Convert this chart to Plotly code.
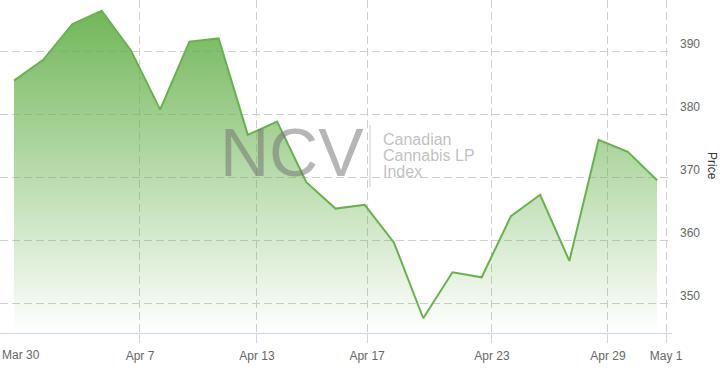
import plotly.graph_objects as go

# ---- data ----
dates = ["Mar 31", "Apr 1", "Apr 2", "Apr 3", "Apr 6", "Apr 7", "Apr 8", "Apr 9",
         "Apr 13", "Apr 14", "Apr 15", "Apr 16", "Apr 17", "Apr 20", "Apr 21",
         "Apr 22", "Apr 23", "Apr 24", "Apr 27", "Apr 28", "Apr 29", "Apr 30", "May 1"]
prices = [385.4, 388.7, 394.4, 396.5, 390.2, 380.8, 391.6, 392.1,
          376.8, 378.9, 369.3, 365.1, 365.7, 359.7, 347.7,
          355.0, 354.2, 363.9, 367.3, 356.8, 376.0, 374.1, 369.6]
tick_pos = [4.31, 8.31, 12.08, 16.35, 20.32, 22.31]
tick_text = ["Apr 7", "Apr 13", "Apr 17", "Apr 23", "Apr 29", "May 1"]
y_ticks = [350, 360, 370, 380, 390]

W, H = 720, 368
PL, PR, PT, PB = 0, 672, 0, 333
x_idx = list(range(len(prices)))

FONT = "Liberation Sans, Arial, sans-serif"
GRID = "rgb(206,206,206)"
LINE = "rgb(104,178,78)"

fig = go.Figure()
fig.add_trace(go.Scatter(
    x=x_idx, y=prices, mode="lines",
    line=dict(color=LINE, width=2),
    fill="tozeroy",
    fillgradient=dict(type="vertical", start=345.4, stop=397,
                      colorscale=[[0, "rgba(104,178,78,0.0)"],
                                  [1, "rgba(104,178,78,0.95)"]]),
    hoverinfo="skip", showlegend=False,
))

def px(x):
    return (x - PL) / (PR - PL)

def py(y):
    return 1 - (y - PT) / (PB - PT)

ann = []
# Watermark
ann.append(dict(text="NCV", x=px(292), y=py(152), xref="paper", yref="paper",
                showarrow=False, xanchor="center", yanchor="middle",
                font=dict(family=FONT, size=68, color="rgba(110,110,110,0.5)")))
for txt, yy in [("Canadian", 139), ("Cannabis LP", 155), ("Index", 171)]:
    ann.append(dict(text=txt, x=px(381), y=py(yy), xref="paper", yref="paper",
                    showarrow=False, xanchor="left", yanchor="middle",
                    font=dict(family=FONT, size=16, color="rgba(150,150,150,0.6)")))
# Mar 30 label at edge
ann.append(dict(text="Mar 30", x=px(0), y=py(355), xref="paper", yref="paper",
                showarrow=False, xanchor="left", yanchor="middle",
                font=dict(family=FONT, size=12, color="#666666")))
# Price title
ann.append(dict(text="Price", x=px(712), y=py(166), xref="paper", yref="paper",
                showarrow=False, xanchor="center", yanchor="middle", textangle=90,
                font=dict(family=FONT, size=12, color="#333333")))

shapes = [dict(type="line", xref="paper", yref="paper",
               x0=px(370), x1=px(370), y0=py(125), y1=py(187),
               line=dict(color="rgba(170,170,170,0.6)", width=1))]

fig.update_layout(
    width=W, height=H,
    margin=dict(l=PL, r=W - PR, t=PT, b=H - PB, pad=0),
    paper_bgcolor="white", plot_bgcolor="white",
    font=dict(family=FONT, size=12, color="#666666"),
    annotations=ann, shapes=shapes,
    xaxis=dict(range=[-14 / 29.23, (672 - 14) / 29.23],
               tickvals=tick_pos, ticktext=tick_text,
               showgrid=True, gridcolor=GRID, griddash="8px,4px", gridwidth=1,
               showline=True, linecolor="#ccd6eb", linewidth=1,
               ticks="outside", ticklen=9, tickcolor="#ccd6eb",
               ticklabelstandoff=3,
               tickfont=dict(family=FONT, size=12, color="#666666"),
               zeroline=False, fixedrange=True),
    yaxis=dict(range=[345.36, 398.2], side="right",
               tickvals=y_ticks, ticktext=[str(v) for v in y_ticks],
               showgrid=True, gridcolor=GRID, griddash="8px,4px", gridwidth=1,
               showline=False, ticks="", ticklabelstandoff=7, ticklabelshift=-8,
               tickfont=dict(family=FONT, size=12, color="#666666"),
               zeroline=False, fixedrange=True),
)

fig.write_html("out.html")
